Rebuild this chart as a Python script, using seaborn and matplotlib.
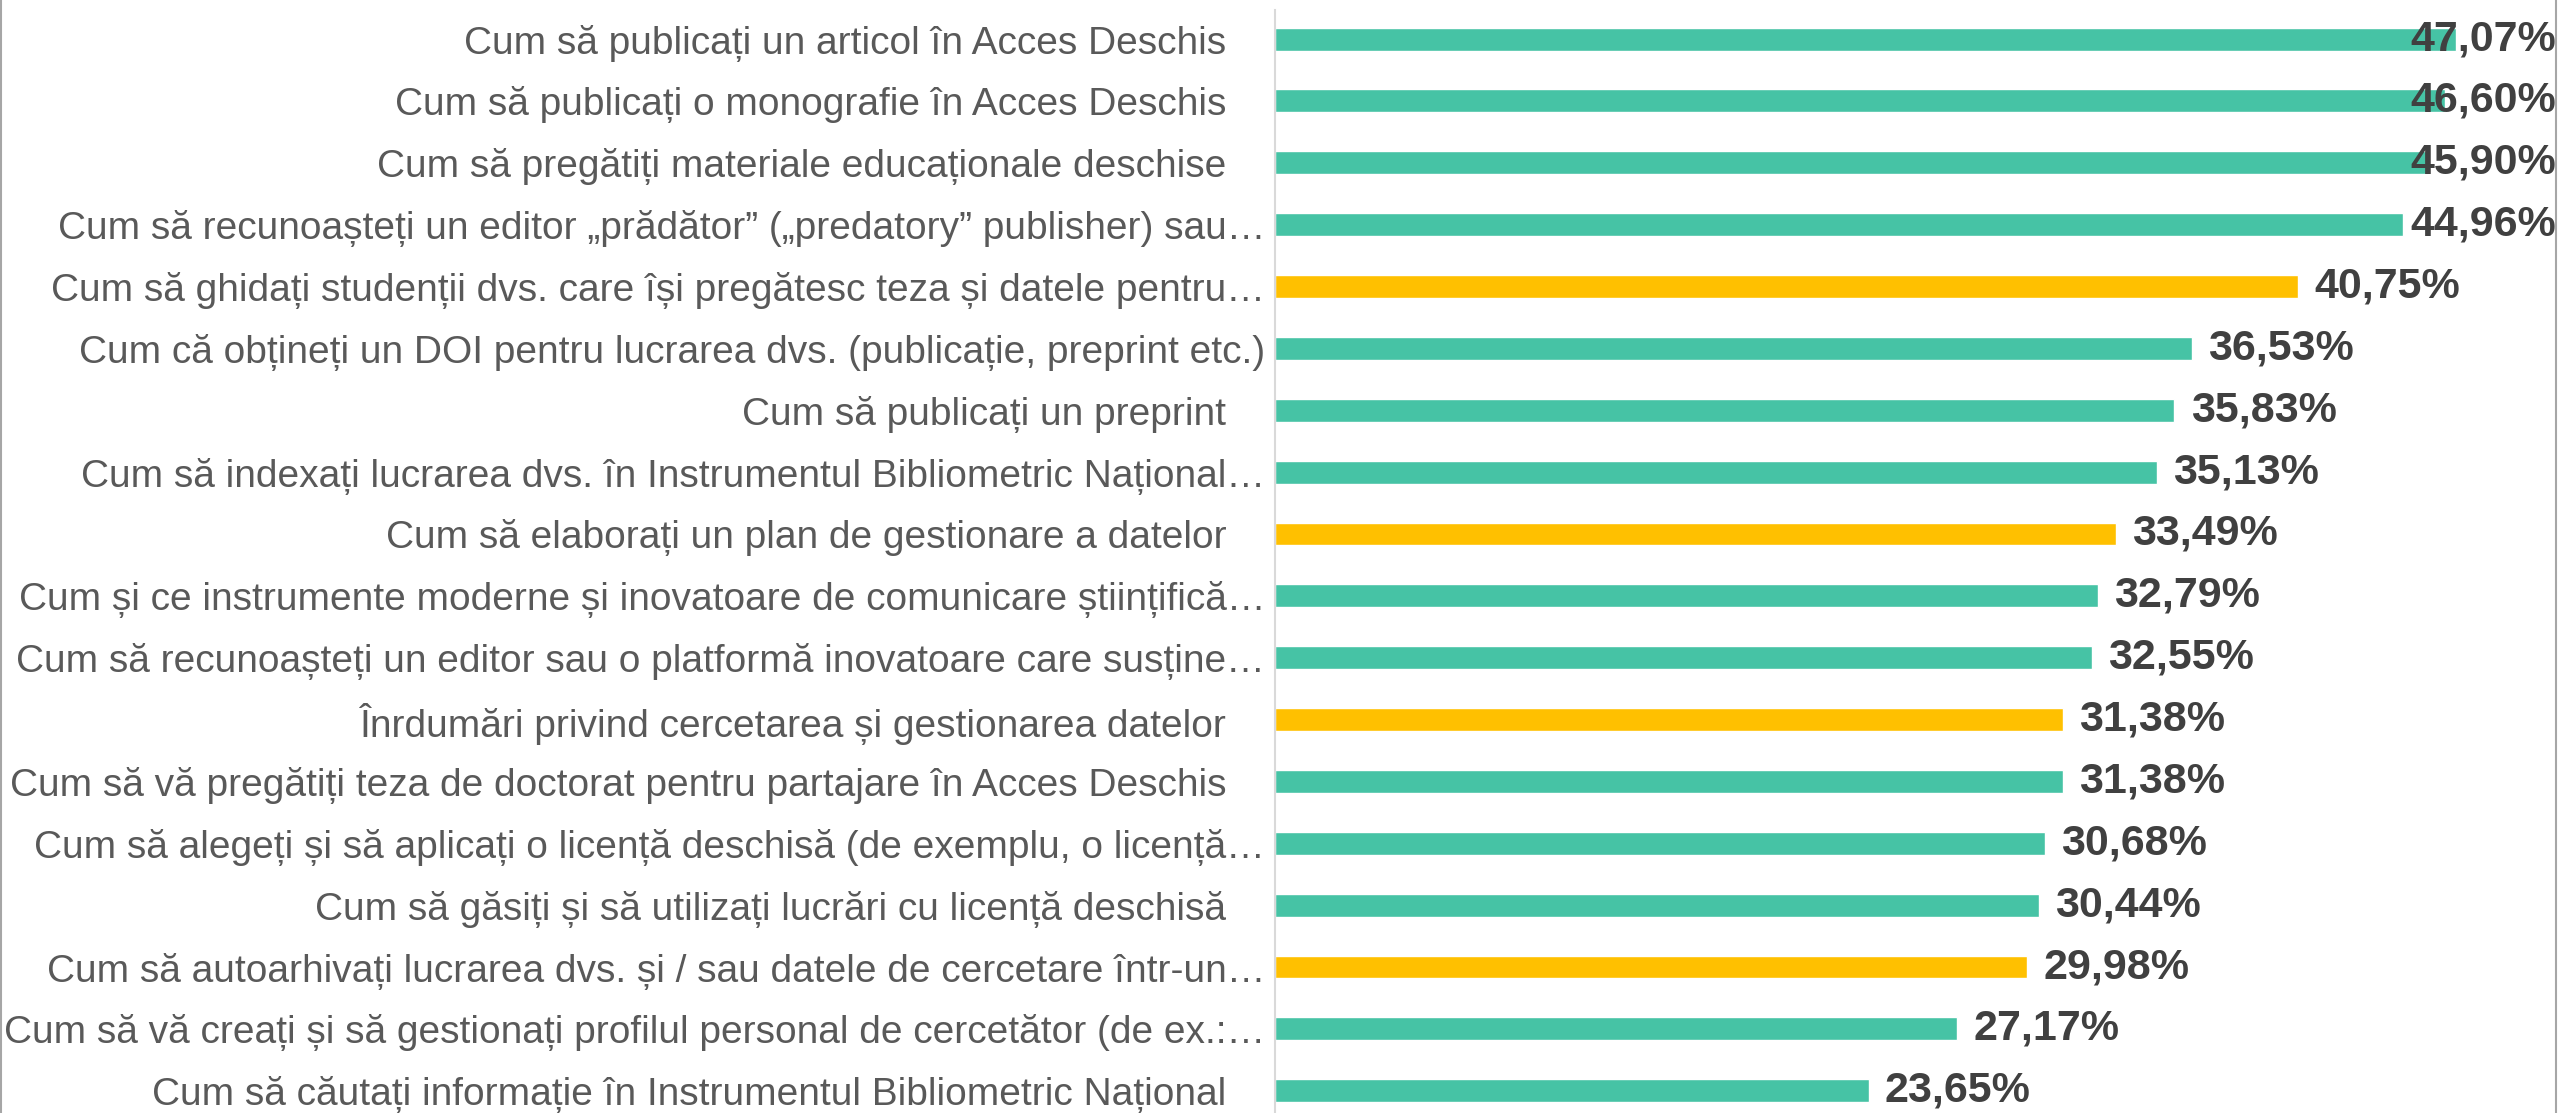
import matplotlib
matplotlib.use("Agg")
import matplotlib.pyplot as plt
import seaborn as sns
import pandas as pd
from matplotlib.lines import Line2D

# data
topics = [
    "Cum să publicați un articol în Acces Deschis ",
    "Cum să publicați o monografie în Acces Deschis ",
    "Cum să pregătiți materiale educaționale deschise ",
    "Cum să recunoașteți un editor „prădător” („predatory” publisher) sau…",
    "Cum să ghidați studenții dvs. care își pregătesc teza și datele pentru…",
    "Cum că obțineți un DOI pentru lucrarea dvs. (publicație, preprint etc.)",
    "Cum să publicați un preprint ",
    "Cum să indexați lucrarea dvs. în Instrumentul Bibliometric Național…",
    "Cum să elaborați un plan de gestionare a datelor ",
    "Cum și ce instrumente moderne și inovatoare de comunicare științifică…",
    "Cum să recunoașteți un editor sau o platformă inovatoare care susține…",
    "Înrdumări privind cercetarea și gestionarea datelor ",
    "Cum să vă pregătiți teza de doctorat pentru partajare în Acces Deschis ",
    "Cum să alegeți și să aplicați o licență deschisă (de exemplu, o licență…",
    "Cum să găsiți și să utilizați lucrări cu licență deschisă ",
    "Cum să autoarhivați lucrarea dvs. și / sau datele de cercetare într-un…",
    "Cum să vă creați și să gestionați profilul personal de cercetător (de ex.:…",
    "Cum să căutați informație în Instrumentul Bibliometric Național ",
]
shares = [47.07, 46.60, 45.90, 44.96, 40.75, 36.53, 35.83, 35.13, 33.49,
          32.79, 32.55, 31.38, 31.38, 30.68, 30.44, 29.98, 27.17, 23.65]
groups = ["a", "a", "a", "a", "b", "a", "a", "a", "b",
          "a", "a", "b", "a", "a", "a", "b", "a", "a"]

GREEN = "#46C3A5"
YELLOW = "#FFC000"

df = pd.DataFrame({"topic": topics, "share": shares, "grp": groups})

sns.set_style("white")
plt.rcParams["font.family"] = ["Liberation Sans", "DejaVu Sans"]

fig = plt.figure(figsize=(25.6, 11.13), dpi=100)
ax = fig.add_axes([1275 / 2560, 0, 1 - 1275 / 2560, 1 - 10 / 1113])

sns.barplot(data=df, x="share", y="topic", hue="grp",
            palette={"a": GREEN, "b": YELLOW}, dodge=False,
            width=0.37, legend=False, saturation=1, ax=ax)

xmax = 51.2
ax.set_xlim(0, xmax)
ax.set_ylim(17.36, -0.47)

# value labels; the ones that would run off the chart are pushed back inside
for i, v in enumerate(shares):
    txt = f"{v:.2f}%".replace(".", ",")
    if v > 44:
        ax.text(xmax - 0.15, i, txt, ha="right", va="center", fontsize=31,
                fontweight="bold", color="#404040", zorder=5)
    else:
        ax.text(v + 0.65, i, txt, ha="left", va="center", fontsize=31,
                fontweight="bold", color="#404040", zorder=5)

# excel keeps a bit more room after labels ending in a space
ax.set_yticks(range(len(topics)))
ax.set_yticklabels([t[:-1] + "\u2002\u2002" if t.endswith(" ") else t for t in topics])

ax.set_xlabel("")
ax.set_ylabel("")
ax.set_xticks([])
ax.tick_params(axis="y", length=0, pad=7, labelsize=28, labelcolor="#595959")
for s in ["top", "right", "bottom"]:
    ax.spines[s].set_visible(False)
ax.spines["left"].set_color("#D9D9D9")
ax.spines["left"].set_linewidth(1.5)

# chart frame: only the left and right edges show in the original
for xf in (0.5 / 2560, 2555.5 / 2560):
    fig.add_artist(Line2D([xf, xf], [0, 1], transform=fig.transFigure,
                          color="#A6A6A6", linewidth=1.5))

fig.savefig("out.png", dpi=100)
